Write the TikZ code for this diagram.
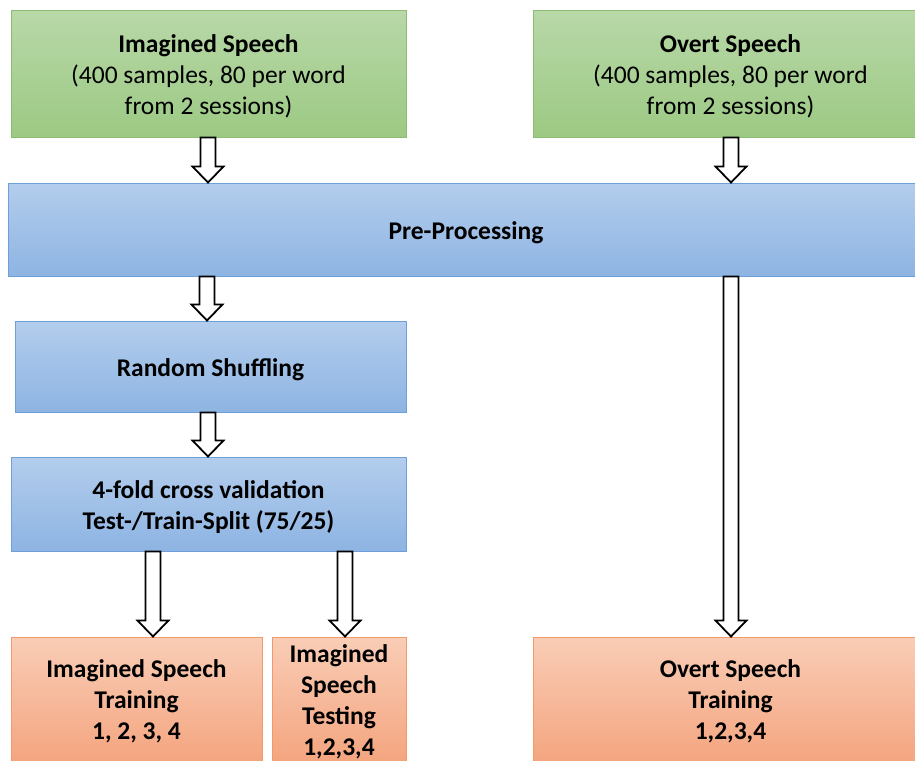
\documentclass[tikz,border=0pt]{standalone}
\usepackage{fontspec}
\setmainfont{Carlito}
\usetikzlibrary{calc}
\definecolor{gtop}{HTML}{B8D8A8}
\definecolor{gbot}{HTML}{9CC983}
\definecolor{gline}{HTML}{8DBB72}
\definecolor{btop}{HTML}{B3CDEC}
\definecolor{bbot}{HTML}{8EB4E3}
\definecolor{bline}{HTML}{6F9FD8}
\definecolor{otop}{HTML}{F9CDB6}
\definecolor{obot}{HTML}{F4A47E}
\definecolor{oline}{HTML}{F09A6C}
\tikzset{
  box/.style={rectangle, inner sep=0pt, line width=1pt},
  greenbox/.style={box, draw=gline, top color=gtop, bottom color=gbot},
  bluebox/.style={box, draw=bline, top color=btop, bottom color=bbot},
  orangebox/.style={box, draw=oline, top color=otop, bottom color=obot},
  txt/.style={inner sep=0pt, align=center, text=black, font=\fontsize{25.5}{31}\selectfont},
  btxt/.style={txt, font=\fontsize{25.5}{31}\selectfont\bfseries},
  hollow/.style={draw=black, fill=white, line width=1.8pt, line join=miter}
}
\newcommand\hollowarrow[2]{%
  \draw[hollow] let \p1=#1, \p2=#2 in
    (\x1-7.5pt,\y1) -- (\x1+7.5pt,\y1) -- (\x1+7.5pt,\y2+16pt) -- (\x1+15.5pt,\y2+16pt)
    -- (\x1,\y2) -- (\x1-15.5pt,\y2+16pt) -- (\x1-7.5pt,\y2+16pt) -- cycle;}
\begin{document}
\begin{tikzpicture}[x=1pt,y=-1pt]
\clip (0,0) rectangle (915,760);
\fill[white] (0,0) rectangle (915,760);
% boxes
\node[greenbox, minimum width=395, minimum height=126] (img) at (208.5,74) {};
\node[greenbox, minimum width=395, minimum height=126] (ovt) at (730.5,74) {};
\node[bluebox, minimum width=916, minimum height=93] (pre) at (466,229.5) {};
\node[bluebox, minimum width=391, minimum height=91] (rs) at (210.5,366.5) {};
\node[bluebox, minimum width=395, minimum height=94] (cv) at (208.5,504) {};
\node[orangebox, minimum width=251, minimum height=127] (ist) at (136.5,700.5) {};
\node[orangebox, minimum width=134, minimum height=127] (iste) at (339,700.5) {};
\node[orangebox, minimum width=395, minimum height=127] (ost) at (730.5,700.5) {};
% texts
\node[txt] (imgt) at ([yshift=-2.5]img.center)
  {\textbf{Imagined Speech}\\(400 samples, 80 per word\\from 2 sessions)};
\node[txt] (ovtt) at ([yshift=-2.5]ovt.center)
  {\textbf{Overt Speech}\\(400 samples, 80 per word\\from 2 sessions)};
\node[btxt] (pret) at ([yshift=-3]pre.center) {Pre-Processing};
\node[btxt] (rst) at ([yshift=-3.5]rs.center) {Random Shuffling};
\node[btxt] (cvt) at ([yshift=-3.5]cv.center) {4-fold cross validation\\Test-/Train-Split (75/25)};
\node[btxt] (istt) at ([yshift=-1]ist.center) {Imagined Speech\\Training\\1, 2, 3, 4};
\node[btxt] (istet) at ([yshift=-1]iste.center) {Imagined\\Speech\\Testing\\1,2,3,4};
\node[btxt] (ostt) at ([yshift=-1]ost.center) {Overt Speech\\Training\\1,2,3,4};
% arrows
\coordinate (a1) at (208,0);
\coordinate (a2) at (731,0);
\coordinate (a3) at (207,0);
\coordinate (a5) at (153,0);
\coordinate (a6) at (345,0);
\hollowarrow{(img.south -| a1)}{(pre.north -| a1)}
\hollowarrow{(ovt.south -| a2)}{(pre.north -| a2)}
\hollowarrow{(pre.south -| a3)}{(rs.north -| a3)}
\hollowarrow{(rs.south -| a1)}{(cv.north -| a1)}
\hollowarrow{(cv.south -| a5)}{(ist.north -| a5)}
\hollowarrow{(cv.south -| a6)}{(iste.north -| a6)}
\hollowarrow{(pre.south -| a2)}{(ost.north -| a2)}
\end{tikzpicture}
\end{document}
